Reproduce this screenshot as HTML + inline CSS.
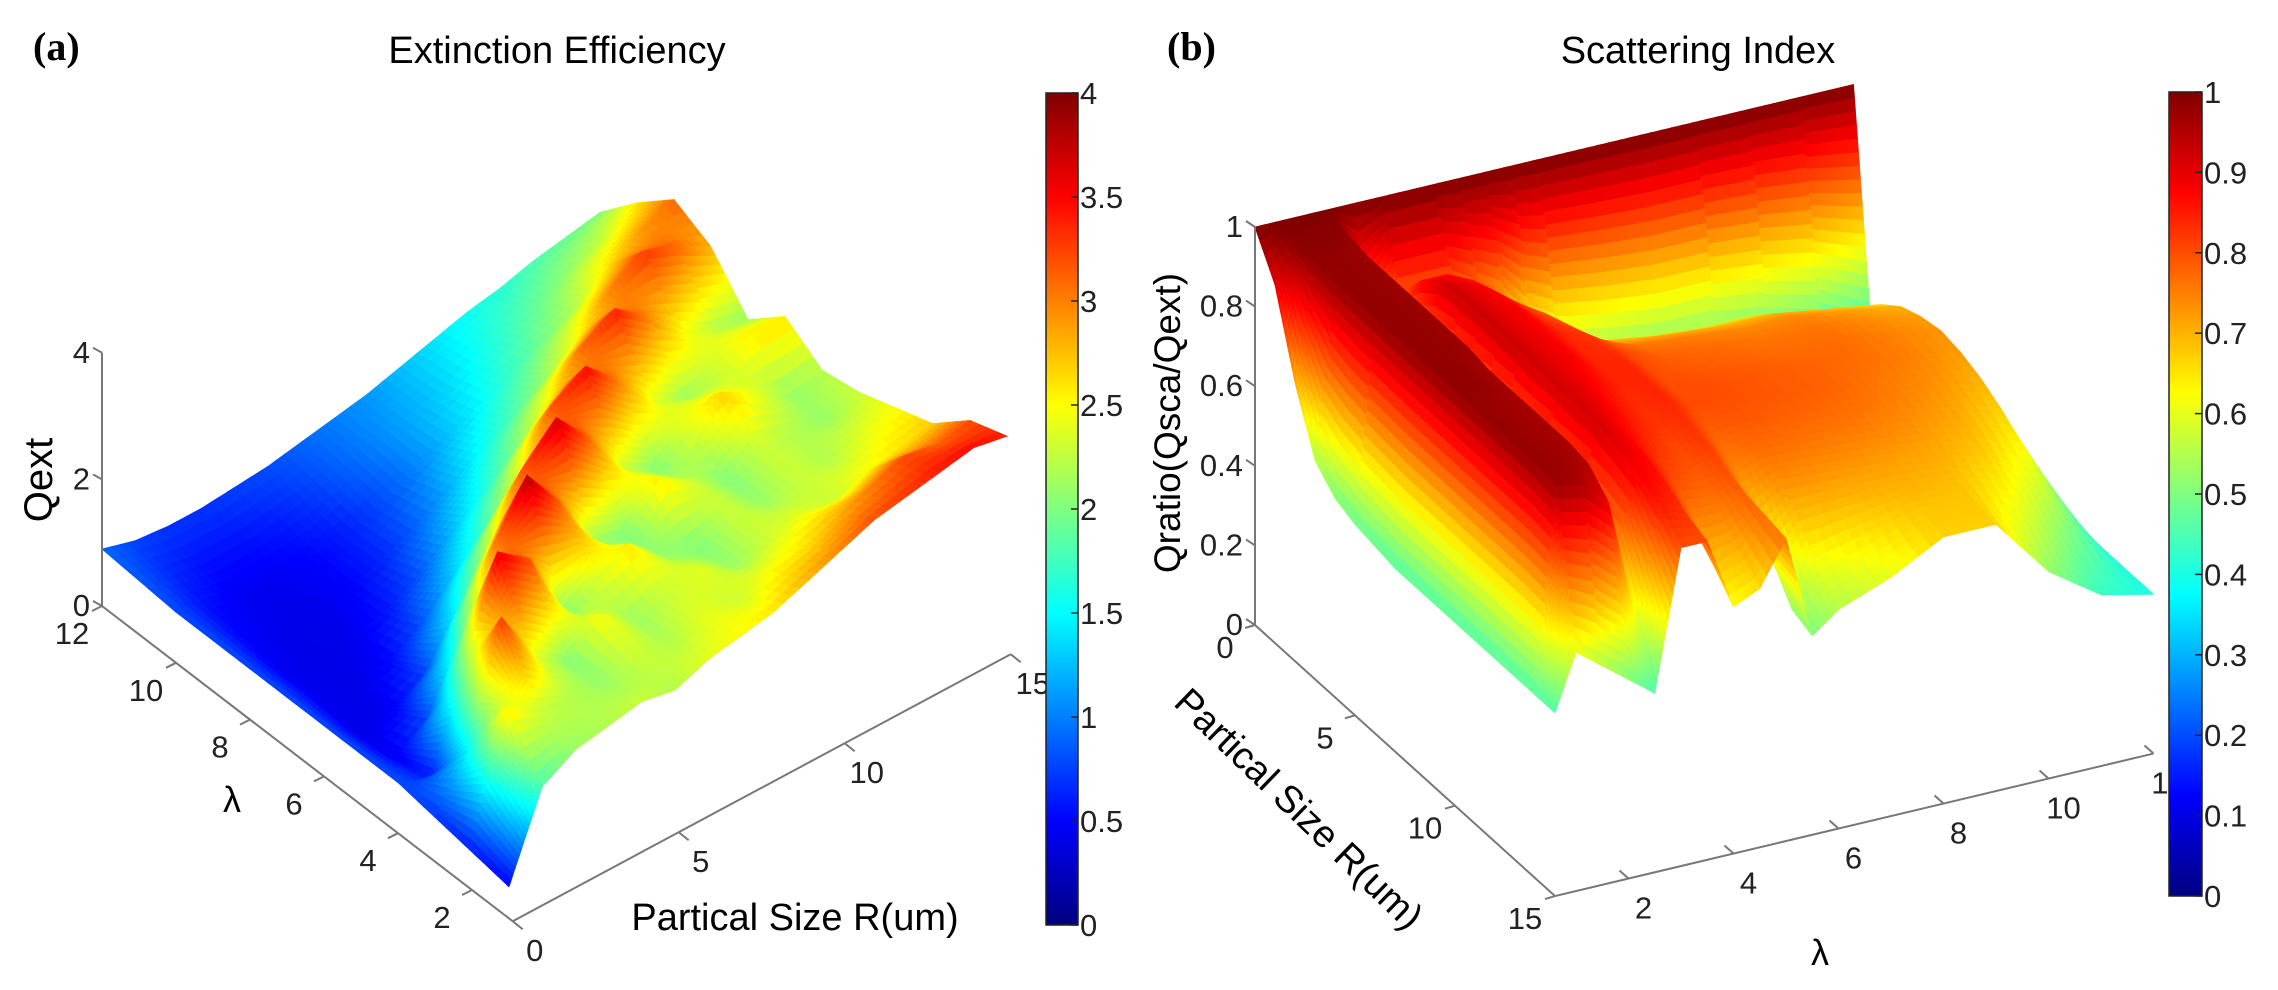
<!DOCTYPE html>
<html><head><meta charset="utf-8">
<style>
html,body{margin:0;padding:0;background:#fff;}
svg{display:block;font-family:"Liberation Sans",Arial,sans-serif;}
.tk{font-size:31px;fill:#222;}
.ax{stroke:#777;stroke-width:2;fill:none;}
</style></head>
<body>
<svg id="fig" width="2278" height="990" viewBox="0 0 2278 990" xmlns="http://www.w3.org/2000/svg">
<rect width="2278" height="990" fill="#fff"/>
<defs>
<linearGradient id="jetg" x1="0" y1="1" x2="0" y2="0">
<stop offset="0" stop-color="#000080"/><stop offset="0.125" stop-color="#0000ff"/>
<stop offset="0.375" stop-color="#00ffff"/><stop offset="0.625" stop-color="#ffff00"/>
<stop offset="0.875" stop-color="#ff0000"/><stop offset="1" stop-color="#800000"/>
</linearGradient>
</defs>
<text x="33" y="60" font-family="Liberation Serif,serif" font-weight="bold" font-size="40">(a)</text>
<text x="557" y="63" text-anchor="middle" font-size="38">Extinction Efficiency</text>
<text x="1167" y="60" font-family="Liberation Serif,serif" font-weight="bold" font-size="40">(b)</text>
<text x="1698" y="63" text-anchor="middle" font-size="38">Scattering Index</text>
<g id="surfA"></g>
<g id="surfB"></g>
<g id="axA"></g>
<g id="axB"></g>
<text transform="translate(52,480) rotate(-90)" text-anchor="middle" font-size="40">Qext</text>
<text x="232" y="812" text-anchor="middle" font-size="36">λ</text>
<text x="795" y="930" text-anchor="middle" font-size="38">Partical Size R(um)</text>
<text transform="translate(1180,423) rotate(-90)" text-anchor="middle" font-size="37">Qratio(Qsca/Qext)</text>
<text transform="translate(1290,818) rotate(44)" text-anchor="middle" font-size="38">Partical Size R(um)</text>
<text x="1820" y="965" text-anchor="middle" font-size="36">λ</text>
<g id="cbA"></g>
<g id="cbB"></g>
</svg>
<script>
// ---- Panel (a) data: Extinction efficiency Qext(lambda, R)
const lambdaA = [1,2,3,4,5,6,7,8,9,10,11,12];
const radiusA = [0,1,2,3,4,5,6,7,8,9,10,11,12,13,14,15];
const qextRows = [
 [.5,1.8,2.1,2.2,2.3,2.2,2.4,2.5,2.6,2.8,3.0,3.2,3.3,3.4,3.5,3.4],
 [.6,2.6,2.3,2.2,2.1,2.3,2.2,2.4,2.3,2.5,2.6,2.8,3.0,3.2,3.1,3.2],
 [.7,1.5,3.3,2.4,2.0,2.5,2.1,2.3,2.4,2.1,2.3,2.4,2.3,2.5,2.6,2.7],
 [.8,.6,2.0,3.6,3.2,2.0,2.4,2.6,2.1,2.0,2.3,2.1,2.3,2.2,2.4,2.5],
 [.8,.45,.8,1.8,3.0,3.8,3.1,2.1,2.0,2.6,2.3,2.0,2.3,2.2,2.1,2.3],
 [.8,.4,.45,.75,1.5,2.3,3.2,3.7,3.1,2.3,2.0,2.4,2.7,2.4,2.1,2.2],
 [.8,.45,.4,.5,.8,1.3,1.8,2.4,3.2,3.5,3.0,2.4,2.1,2.3,2.6,2.6],
 [.8,.45,.4,.42,.55,.8,1.2,1.6,2.0,2.5,3.1,3.4,3.0,2.5,2.2,2.1],
 [.8,.5,.42,.42,.48,.62,.85,1.15,1.5,1.8,2.1,2.5,3.0,3.3,3.1,2.8],
 [.8,.55,.45,.45,.5,.6,.75,.95,1.2,1.45,1.7,1.95,2.2,2.6,2.9,3.1],
 [.85,.65,.55,.55,.6,.7,.85,1.0,1.15,1.3,1.5,1.7,1.9,2.1,2.3,2.6],
 [.9,.75,.7,.7,.75,.8,.9,1.0,1.1,1.25,1.4,1.55,1.65,1.8,1.9,2.0]
];
const zTicksA = [0,2,4];
const lamTicksA = [2,4,6,8,10,12];
const rTicksA = [0,5,10,15];
const cbTicksA = [0,0.5,1,1.5,2,2.5,3,3.5,4];

// ---- Panel (b) data: Scattering ratio Qsca/Qext(lambda, R)
const lambdaB = [0.6,1,1.5,2,2.5,3,3.5,4,4.5,5,5.5,6,7,8,9,10,11,12];
const radiusB = [0,1,2,3,4,5,6,7,8,9,10,11,12,13,14,15];
const qratioRows = [
 [1,.9,.7,.55,.5,.48,.47,.46,.46,.46,.46,.46,.46,.46,.46,.46],
 [1,.99,.98,.98,.98,.98,.98,.98,.98,.98,.98,.98,.98,.98,.97,.6],
 [1,.99,.98,.98,.98,.98,.98,.98,.98,.98,.97,.97,.97,.97,.96,.55],
 [1,.98,.97,.97,.97,.97,.97,.97,.96,.96,.96,.96,.96,.95,.9,.5],
 [1,.6,.5,.55,.6,.65,.68,.7,.72,.74,.75,.76,.77,.75,.6,.45],
 [1,.8,.88,.92,.93,.93,.93,.93,.92,.92,.92,.92,.9,.88,.85,.8],
 [1,.8,.88,.9,.9,.9,.9,.9,.9,.9,.89,.88,.87,.85,.82,.8],
 [1,.8,.85,.87,.88,.88,.88,.88,.87,.86,.85,.83,.8,.75,.68,.62],
 [1,.75,.8,.82,.83,.84,.84,.84,.84,.83,.82,.8,.78,.75,.7,.65],
 [1,.7,.75,.78,.8,.82,.83,.84,.84,.84,.83,.82,.8,.78,.77,.76],
 [1,.6,.65,.7,.75,.78,.8,.8,.8,.8,.78,.75,.7,.6,.52,.5],
 [1,.55,.62,.68,.72,.76,.78,.79,.8,.8,.79,.77,.74,.68,.6,.55],
 [1,.52,.6,.66,.71,.75,.77,.78,.79,.79,.78,.76,.73,.69,.64,.6],
 [1,.5,.58,.65,.7,.74,.76,.77,.78,.78,.77,.75,.72,.7,.68,.67],
 [1,.5,.58,.65,.7,.74,.76,.77,.77,.76,.75,.73,.71,.69,.68,.67],
 [1,.48,.56,.63,.68,.72,.74,.75,.75,.74,.72,.7,.67,.63,.58,.52],
 [1,.44,.52,.6,.66,.7,.72,.73,.72,.7,.67,.63,.58,.52,.47,.43],
 [1,.36,.38,.4,.42,.44,.45,.45,.44,.43,.42,.41,.4,.4,.4,.4]
];
const zTicksB = [0,0.2,0.4,0.6,0.8,1];
const rTicksB = [0,5,10,15];
const lamTicksB = [2,4,6,8,10,12];
const cbTicksB = [0,0.1,0.2,0.3,0.4,0.5,0.6,0.7,0.8,0.9,1];

const NS = "http://www.w3.org/2000/svg";
function jet(t){
  t = Math.max(0, Math.min(1, t));
  const c = v => Math.round(255 * Math.max(0, Math.min(1, v)));
  return "rgb(" + c(1.5 - Math.abs(4*t-3)) + "," + c(1.5 - Math.abs(4*t-2)) + "," + c(1.5 - Math.abs(4*t-1)) + ")";
}
// axis functions
function projA(lam, r, z){ return [102 + (12-lam)*37 + r*33.2, 606 + (12-lam)*28.4 - r*17.8 - z*63.3]; }
function nearA(lam, r){ return (12-lam)*28.4 - r*17.8; }
function projB(lam, r, z){ return [1255 + r*20 + (lam-0.6)*52.5, 625 + r*18.07 - (lam-0.6)*12.5 - z*398]; }
function nearB(lam, r){ return r*18.07 - (lam-0.6)*12.5; }

function drawSurface(g, lams, rs, Z, proj, near, cmax, base, name){
  const polys = [];
  for (let i=0;i<lams.length-1;i++) for (let j=0;j<rs.length-1;j++){
    const zs=[Z[i][j],Z[i+1][j],Z[i+1][j+1],Z[i][j+1]];
    const rng=(Math.max(...zs)-Math.min(...zs))/cmax;
    const su=Math.max(base, Math.ceil(rng*30));
    const sv=su;
    for (let a=0;a<su;a++) for (let b=0;b<sv;b++){
      const pts = [[a,b],[a+1,b],[a+1,b+1],[a,b+1]].map(([u,v])=>{
        const fu=u/su, fv=v/sv;
        const lam = lams[i]+(lams[i+1]-lams[i])*fu;
        const r = rs[j]+(rs[j+1]-rs[j])*fv;
        const z = Z[i][j]*(1-fu)*(1-fv)+Z[i+1][j]*fu*(1-fv)+Z[i+1][j+1]*fu*fv+Z[i][j+1]*(1-fu)*fv;
        return [lam,r,z];
      });
      const zc = (pts[0][2]+pts[1][2]+pts[2][2]+pts[3][2])/4;
      const lc = (pts[0][0]+pts[2][0])/2, rc=(pts[0][1]+pts[2][1])/2;
      polys.push({d:near(lc,rc), z:zc, pts:pts.map(p=>proj(p[0],p[1],p[2]))});
    }
  }
  polys.sort((p,q)=>p.d-q.d);
  for (const p of polys){
    const el = document.createElementNS(NS,"polygon");
    el.setAttribute("points", p.pts.map(q=>q[0].toFixed(1)+","+q[1].toFixed(1)).join(" "));
    const col = jet(p.z/cmax);
    el.setAttribute("fill", col);
    el.setAttribute("stroke", col);
    el.setAttribute("stroke-width", "0.8");
    
    
    g.appendChild(el);
  }
}
function line(g, x1,y1,x2,y2, name){
  const el = document.createElementNS(NS,"line");
  el.setAttribute("x1",x1);el.setAttribute("y1",y1);el.setAttribute("x2",x2);el.setAttribute("y2",y2);
  el.setAttribute("class","ax");
  
  
  g.appendChild(el);
}
function label(g, x, y, s, anchor, name){
  const el = document.createElementNS(NS,"text");
  el.setAttribute("x",x);el.setAttribute("y",y);
  el.setAttribute("class","tk");
  el.setAttribute("text-anchor",anchor);
  el.textContent = s;
  
  
  g.appendChild(el);
}

drawSurface(document.getElementById("surfA"), lambdaA, radiusA, qextRows, projA, nearA, 4, 4, "surface-a-patch");
drawSurface(document.getElementById("surfB"), lambdaB, radiusB, qratioRows, projB, nearB, 1, 4, "surface-b-patch");

// axes a
const gA = document.getElementById("axA");
let p0 = projA(12,0,0), p1 = projA(12,0,4);
line(gA, p0[0],p0[1],p1[0],p1[1], "z-axis-a");
zTicksA.forEach(v=>{ const p=projA(12,0,v); line(gA,p[0],p[1],p[0]-9,p[1]-5,"z-tick-a"); label(gA,p[0]-12,p[1]+10,String(v),"end","z-tick-label-a"); });
p0 = projA(12,0,0); p1 = projA(0.9,0,0);
line(gA, p0[0],p0[1],p1[0],p1[1], "lambda-axis-a");
lamTicksA.forEach(v=>{ const p=projA(v,0,0); line(gA,p[0],p[1],p[0]-10,p[1]+5,"lambda-tick-a"); label(gA,p[0]-30,p[1]+38,String(v),"middle","lambda-tick-label-a"); });
p0 = projA(0.9,0,0); p1 = projA(0.9,15,0);
line(gA, p0[0],p0[1],p1[0],p1[1], "r-axis-a");
rTicksA.forEach(v=>{ const p=projA(0.9,v,0); line(gA,p[0],p[1],p[0]+10,p[1]+8,"r-tick-a"); label(gA,p[0]+22,p[1]+40,String(v),"middle","r-tick-label-a"); });

// axes b
const gB = document.getElementById("axB");
p0 = projB(0.6,0,0); p1 = projB(0.6,0,1);
line(gB, p0[0],p0[1],p1[0],p1[1], "z-axis-b");
zTicksB.forEach(v=>{ const p=projB(0.6,0,v); line(gB,p[0],p[1],p[0]-9,p[1]-6,"z-tick-b"); label(gB,p[0]-12,p[1]+10,String(v),"end","z-tick-label-b"); });
p0 = projB(0.6,0,0); p1 = projB(0.6,15,0);
line(gB, p0[0],p0[1],p1[0],p1[1], "r-axis-b");
rTicksB.forEach(v=>{ const p=projB(0.6,v,0); line(gB,p[0],p[1],p[0]-10,p[1]+3,"r-tick-b"); label(gB,p[0]-30,p[1]+33,String(v),"middle","r-tick-label-b"); });
p0 = projB(0.6,15,0); p1 = projB(12,15,0);
line(gB, p0[0],p0[1],p1[0],p1[1], "lambda-axis-b");
lamTicksB.forEach(v=>{ const p=projB(v,15,0); line(gB,p[0],p[1],p[0]-9,p[1]-8,"lambda-tick-b"); label(gB,p[0]+15,p[1]+40,String(v),"middle","lambda-tick-label-b"); });

// colorbars
function colorbar(g, x, y0, y1, w, ticks, vmax, name){
  const r = document.createElementNS(NS,"rect");
  r.setAttribute("x",x);r.setAttribute("y",y0);r.setAttribute("width",w);r.setAttribute("height",y1-y0);
  r.setAttribute("fill","url(#jetg)");r.setAttribute("stroke","#222");r.setAttribute("stroke-width","1.5");
  
  
  g.appendChild(r);
  ticks.forEach(v=>{
    const y = y1 - (y1-y0)*v/vmax;
    const t1 = document.createElementNS(NS,"line");
    t1.setAttribute("x1",x+w-7);t1.setAttribute("x2",x+w);t1.setAttribute("y1",y);t1.setAttribute("y2",y);
    t1.setAttribute("stroke","#222");t1.setAttribute("stroke-width","1.5");
    
    
    g.appendChild(t1);
    label(g, x+w+2, y+11, String(v), "start", name+"-tick-label");
  });
}
colorbar(document.getElementById("cbA"), 1046, 93, 925, 32, cbTicksA, 4, "colorbar-a");
colorbar(document.getElementById("cbB"), 2169, 92, 896, 33, cbTicksB, 1, "colorbar-b");
</script>
</body></html>
